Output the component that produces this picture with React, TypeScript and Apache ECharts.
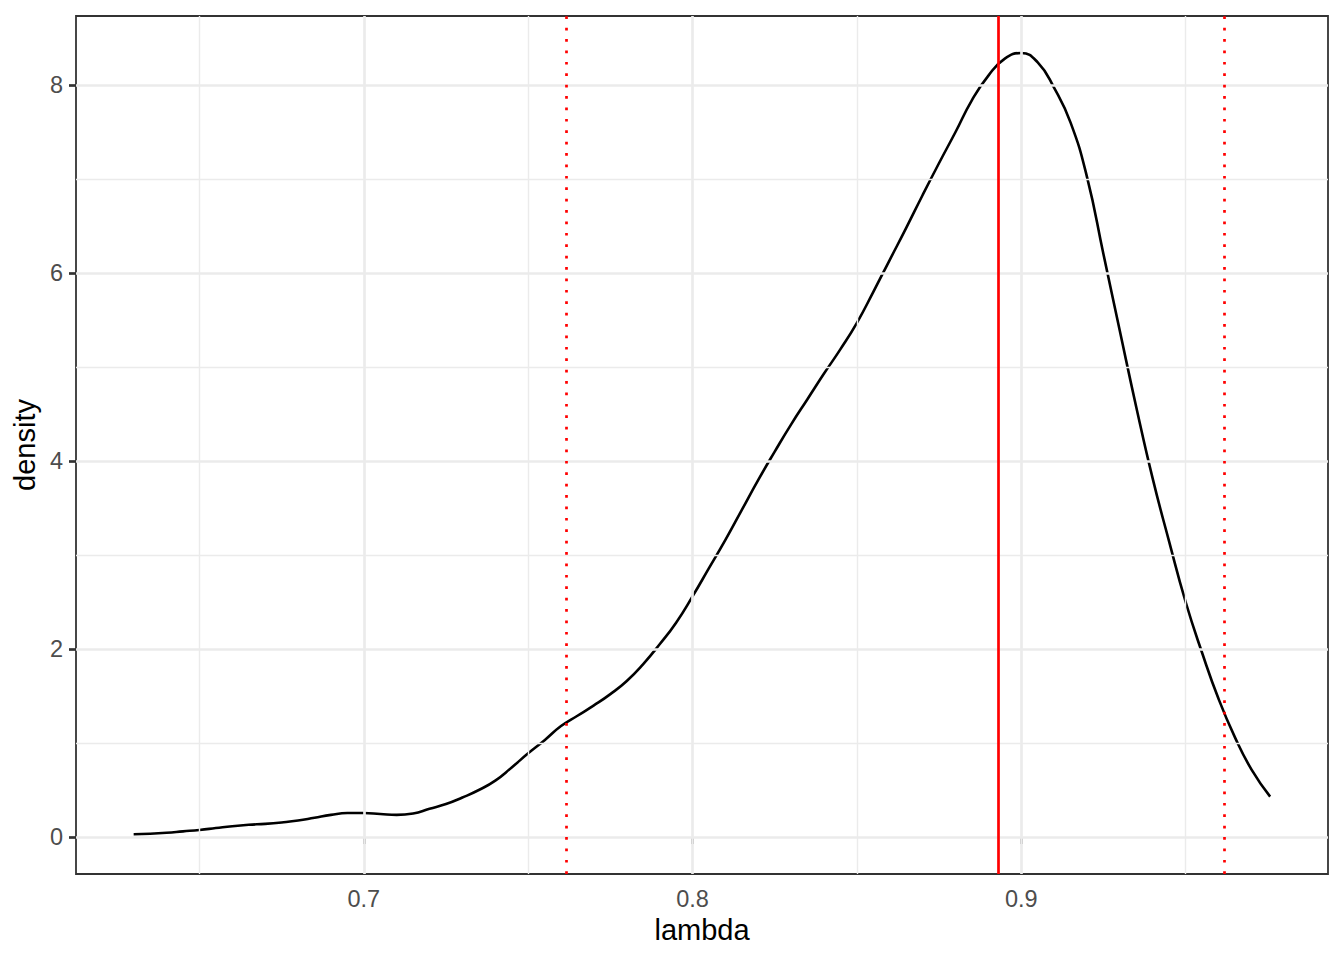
import React, { useEffect, useRef } from "react";
import * as echarts from "echarts";

const lambdaVals = [
  0.63, 0.635, 0.64, 0.645, 0.65, 0.655, 0.66, 0.665, 0.67, 0.675, 0.68, 0.685,
  0.69, 0.695, 0.7, 0.705, 0.71, 0.715, 0.72, 0.725, 0.73, 0.735, 0.74, 0.745,
  0.75, 0.755, 0.76, 0.765, 0.77, 0.775, 0.78, 0.785, 0.79, 0.795, 0.8, 0.805,
  0.81, 0.815, 0.82, 0.825, 0.83, 0.835, 0.84, 0.845, 0.85, 0.855, 0.86, 0.865,
  0.87, 0.875, 0.88, 0.885, 0.89, 0.895, 0.9, 0.905, 0.91, 0.915, 0.92, 0.925,
  0.93, 0.935, 0.94, 0.945, 0.95, 0.955, 0.96, 0.965, 0.97, 0.9757,
];
const densityVals = [
  0.03, 0.035, 0.045, 0.06, 0.075, 0.095, 0.115, 0.13, 0.14, 0.155, 0.175, 0.205,
  0.235, 0.255, 0.255, 0.245, 0.235, 0.25, 0.3, 0.35, 0.42, 0.5, 0.6, 0.74,
  0.89, 1.03, 1.18, 1.29, 1.4, 1.52, 1.66, 1.84, 2.05, 2.28, 2.56, 2.86,
  3.16, 3.48, 3.8, 4.1, 4.39, 4.66, 4.93, 5.19, 5.47, 5.8, 6.14, 6.48,
  6.83, 7.17, 7.5, 7.84, 8.1, 8.28, 8.34, 8.24, 7.97, 7.6, 7.02, 6.2,
  5.38, 4.57, 3.81, 3.14, 2.5, 1.96, 1.47, 1.06, 0.72, 0.43,
];
const xTicks = [0.7, 0.8, 0.9];
const xMinor = [0.65, 0.75, 0.85, 0.95];
const yTicks = [0, 2, 4, 6, 8];
const yMinor = [1, 3, 5, 7];
const pointEstimate = 0.893;
const intervalBounds = [0.7617, 0.9617];

const X_MIN = 0.61246;
const X_MAX = 0.9933;
const Y_MIN = -0.3936;
const Y_MAX = 8.734;

export default function App() {
  const ref = useRef<HTMLDivElement>(null);
  useEffect(() => {
    if (!ref.current) return;
    const chart = echarts.init(ref.current, null, { renderer: "svg" });
    const font = "Liberation Sans, Arial, sans-serif";
    const grid = (v: number, axis: "x" | "y", major: boolean) => ({
      [axis === "x" ? "xAxis" : "yAxis"]: v,
      lineStyle: { color: "#EBEBEB", width: major ? 2.7 : 1.4, type: "solid" },
    });
    chart.setOption({
      animation: false,
      backgroundColor: "#ffffff",
      grid: {
        left: 76,
        top: 16,
        right: 16,
        bottom: 86,
        show: true,
        borderColor: "#333333",
        borderWidth: 1.8,
        backgroundColor: "transparent",
        containLabel: false,
      },
      xAxis: {
        type: "value",
        min: X_MIN,
        max: X_MAX,
        name: "lambda",
        nameLocation: "middle",
        nameGap: 41,
        nameTextStyle: { color: "#000000", fontSize: 29, fontFamily: font },
        axisLine: { show: false },
        axisTick: {
          show: true,
          inside: false,
          length: 7,
          customValues: xTicks,
          lineStyle: { color: "#333333", width: 2.7 },
        },
        axisLabel: {
          customValues: xTicks,
          color: "#4D4D4D",
          fontSize: 23.5,
          fontFamily: font,
          margin: 13,
          formatter: (v: number) => v.toFixed(1),
        },
        splitLine: { show: false },
        minorSplitLine: { show: false },
      },
      yAxis: {
        type: "value",
        min: Y_MIN,
        max: Y_MAX,
        name: "density",
        nameLocation: "middle",
        nameGap: 35,
        nameRotate: 90,
        nameTextStyle: { color: "#000000", fontSize: 29, fontFamily: font },
        axisLine: { show: false },
        axisTick: {
          show: true,
          inside: false,
          length: 7,
          customValues: yTicks,
          lineStyle: { color: "#333333", width: 2.7 },
        },
        axisLabel: {
          customValues: yTicks,
          color: "#4D4D4D",
          fontSize: 23.5,
          fontFamily: font,
          margin: 13,
          formatter: (v: number) => String(Math.round(v)),
        },
        splitLine: { show: false },
      },
      series: [
        {
          type: "line",
          data: [],
          silent: true,
          z: 1,
          markLine: {
            silent: true,
            symbol: "none",
            precision: 6,
            label: { show: false },
            animation: false,
            data: [
              ...xMinor.map((v) => grid(v, "x", false)),
              ...yMinor.map((v) => grid(v, "y", false)),
              ...xTicks.map((v) => grid(v, "x", true)),
              ...yTicks.map((v) => grid(v, "y", true)),
            ],
          },
        },
        {
          type: "line",
          data: lambdaVals.map((x, i) => [x, densityVals[i]]),
          smooth: 0.5,
          showSymbol: false,
          symbol: "none",
          lineStyle: { color: "#000000", width: 2.6 },
          z: 3,
          silent: true,
        },
        {
          type: "line",
          data: [],
          silent: true,
          z: 4,
          markLine: {
            silent: true,
            symbol: "none",
            precision: 6,
            label: { show: false },
            animation: false,
            data: [
              { xAxis: pointEstimate, lineStyle: { color: "#FF0000", width: 2.7, type: "solid" } },
              ...intervalBounds.map((v) => ({
                xAxis: v,
                lineStyle: { color: "#FF0000", width: 2.7, type: [2.7, 8.7] },
              })),
            ],
          },
        },
      ],
    });
    return () => chart.dispose();
  }, []);
  return (
    <div
      ref={ref}
      style={{ position: "absolute", left: 0, top: 0, width: 1344, height: 960 }}
    />
  );
}
